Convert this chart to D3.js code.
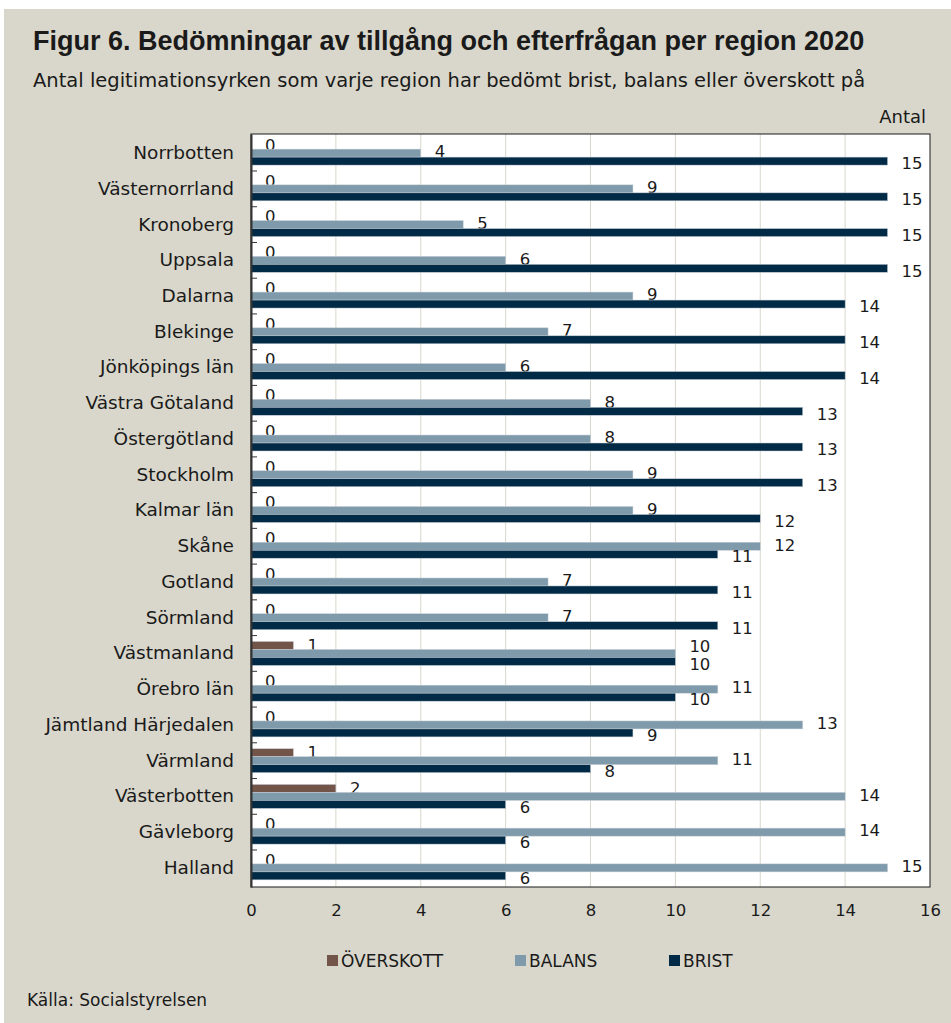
<!DOCTYPE html>
<html>
<head>
<meta charset="utf-8">
<script src="https://cdn.jsdelivr.net/npm/d3@7"></script>
<style>
  body { margin: 0; background: #fff; }
  text { font-family: "DejaVu Sans", sans-serif; fill: #1a1a1a; }
</style>
</head>
<body>
<script>
// Data
var regions = ["Norrbotten", "Västernorrland", "Kronoberg", "Uppsala", "Dalarna", "Blekinge",
  "Jönköpings län", "Västra Götaland", "Östergötland", "Stockholm", "Kalmar län", "Skåne",
  "Gotland", "Sörmland", "Västmanland", "Örebro län", "Jämtland Härjedalen", "Värmland",
  "Västerbotten", "Gävleborg", "Halland"];
var overskott = [0, 0, 0, 0, 0, 0, 0, 0, 0, 0, 0, 0, 0, 0, 1, 0, 0, 1, 2, 0, 0];
var balans = [4, 9, 5, 6, 9, 7, 6, 8, 8, 9, 9, 12, 7, 7, 10, 11, 13, 11, 14, 14, 15];
var brist = [15, 15, 15, 15, 14, 14, 14, 13, 13, 13, 12, 11, 11, 11, 10, 10, 9, 8, 6, 6, 6];
var seriesNames = ["ÖVERSKOTT", "BALANS", "BRIST"];
var seriesColors = ["#735448", "#7f9aab", "#002a45"];
var xTicks = [0, 2, 4, 6, 8, 10, 12, 14, 16];

var series = [overskott, balans, brist];
// small vertical nudge of the value labels, per series
var labelShift = [0, -1.5, 2.5];

var W = 951, H = 1023;
var margin = {top: 134, right: 21, bottom: 136, left: 251};
var width = W - margin.left - margin.right;
var height = H - margin.top - margin.bottom;

var root = d3.select("body").append("svg")
  .attr("width", W)
  .attr("height", H);

// beige panel
root.append("rect")
  .attr("x", 4).attr("y", 9)
  .attr("width", W - 4).attr("height", H - 9)
  .attr("fill", "#d9d7cb");

// Titles
root.append("text")
  .attr("x", 33).attr("y", 50)
  .style("font-family", "'Liberation Sans', sans-serif")
  .style("font-weight", "bold")
  .style("font-size", "27px")
  .text("Figur 6. Bedömningar av tillgång och efterfrågan per region 2020");

root.append("text")
  .attr("x", 33).attr("y", 87)
  .style("font-size", "19.5px")
  .text("Antal legitimationsyrken som varje region har bedömt brist, balans eller överskott på");

root.append("text")
  .attr("x", 926).attr("y", 123)
  .attr("text-anchor", "end")
  .style("font-size", "18px")
  .text("Antal");

var svg = root.append("g")
  .attr("transform", `translate(${margin.left}, ${margin.top})`);

// Scales
var x = d3.scaleLinear().domain([0, 16]).range([0, width]);
var y = d3.scaleBand().domain(regions).range([0, height]).paddingInner(0.33).paddingOuter(0.2);
var ySub = d3.scaleBand().domain(d3.range(3)).range([0, y.bandwidth()]);

// plot background
svg.append("rect")
  .attr("width", width).attr("height", height)
  .attr("fill", "#fff");

// grid
svg.selectAll(".grid")
  .data(xTicks.slice(1, -1))
  .join("line")
  .attr("x1", d => x(d)).attr("x2", d => x(d))
  .attr("y1", 0).attr("y2", height)
  .attr("stroke", "#d9d7cb")
  .attr("stroke-width", 1);

// bars
var groups = svg.selectAll(".region")
  .data(regions)
  .join("g")
  .attr("transform", d => `translate(0, ${y(d)})`);

groups.each(function(r, i) {
  var g = d3.select(this);
  series.forEach(function(s, k) {
    if (s[i] > 0) {
      g.append("rect")
        .attr("x", 0)
        .attr("y", ySub(k))
        .attr("width", x(s[i]))
        .attr("height", ySub.bandwidth())
        .attr("fill", seriesColors[k])
        .attr("stroke", "#c5ced6")
        .attr("stroke-width", 0.5);
    }
    var shift = labelShift[k];
    // when balans and brist end at the same place, lift the balans label
    if (k === 1 && balans[i] === brist[i]) shift -= 6;
    g.append("text")
      .attr("x", x(s[i]) + 14)
      .attr("y", ySub(k) + ySub.bandwidth() / 2 + shift)
      .attr("dy", "0.35em")
      .style("font-size", "16.5px")
      .text(s[i]);
  });
});

// frame
svg.append("rect")
  .attr("width", width).attr("height", height)
  .attr("fill", "none")
  .attr("stroke", "#1a1a1a")
  .attr("stroke-width", 1);

// Y axis
var axeY = d3.axisLeft(y).tickSize(0).tickPadding(17);
var groupeY = svg.append("g").call(axeY);
groupeY.select(".domain").attr("stroke", "#333").attr("stroke-width", 2);
groupeY.selectAll("text")
  .style("font-size", "18.5px")
  .style("font-family", "'DejaVu Sans', sans-serif")
  .attr("fill", "#1a1a1a");

// inward ticks at band boundaries
var step = y.step();
svg.selectAll(".ytick")
  .data(d3.range(1, regions.length))
  .join("line")
  .attr("x1", 0).attr("x2", 6)
  .attr("y1", d => y(regions[d]) - step * 0.33 / 2)
  .attr("y2", d => y(regions[d]) - step * 0.33 / 2)
  .attr("stroke", "#333");

// X axis
var axeX = d3.axisBottom(x).tickValues(xTicks).tickSize(0).tickPadding(17);
var groupeX = svg.append("g")
  .attr("transform", `translate(0, ${height})`)
  .call(axeX);
groupeX.select(".domain").remove();
groupeX.selectAll("text")
  .style("font-size", "16.5px")
  .style("font-family", "'DejaVu Sans', sans-serif")
  .attr("fill", "#1a1a1a");

// Legend
var legendX = [327, 515, 669];
var legend = root.selectAll(".legend")
  .data(seriesNames)
  .join("g")
  .attr("transform", (d, i) => `translate(${legendX[i]}, 955)`);
legend.append("rect")
  .attr("width", 11).attr("height", 11)
  .attr("fill", (d, i) => seriesColors[i]);
legend.append("text")
  .attr("x", 14).attr("y", 11.5)
  .style("font-size", "17px")
  .text(d => d);

root.append("text")
  .attr("x", 27).attr("y", 1006)
  .style("font-size", "17px")
  .text("Källa: Socialstyrelsen");
</script>
</body>
</html>
